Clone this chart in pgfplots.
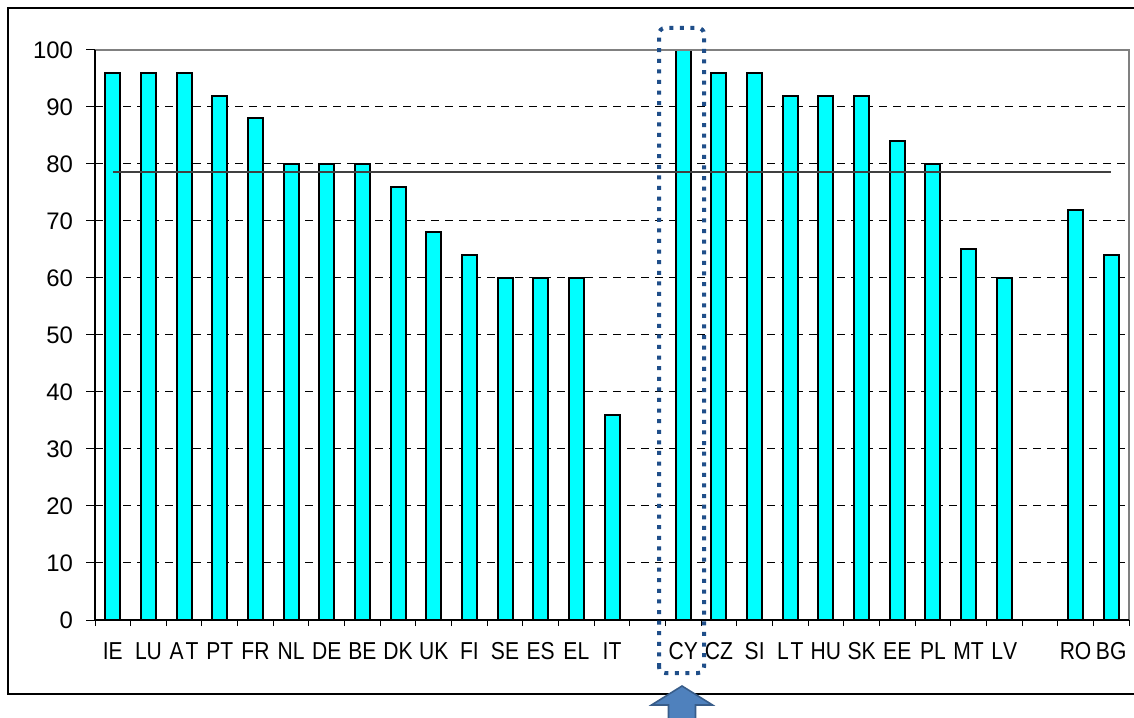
\documentclass[border=0pt]{standalone}
\usepackage{pgfplots}
\pgfplotsset{compat=1.18}
\usepackage{fontspec}
\setmainfont{Liberation Sans}
\newfontfamily\condfont[FakeStretch=0.86,Kerning=Off]{Liberation Sans}
\definecolor{barcyan}{RGB}{0,255,255}
\definecolor{boxblue}{RGB}{31,78,137}
\definecolor{arrowfill}{RGB}{79,129,189}
\definecolor{arrowdraw}{RGB}{56,93,138}
\begin{document}
\begin{tikzpicture}[x=0.5bp,y=0.5bp]
\useasboundingbox (0,0) rectangle (1134,717);
\fill[white] (0,0) rectangle (1134,717);
\draw[line width=0.7bp] (1150,709) -- (8,709) -- (8,23) -- (1150,23);
\begin{axis}[
  at={(47.5bp,48.5bp)}, anchor=south west,
  scale only axis, width=517bp, height=285bp,
  xmin=-0.5, xmax=28.5, ymin=0, ymax=100,
  clip=false,
  axis line style={draw=none},
  tick pos=left,
  ytick={0,10,...,100},
  ymajorgrids,
  grid style={black, dash pattern=on 4bp off 3bp, line width=0.5bp},
  tick align=outside, major tick length=4.5bp, minor tick length=3bp,
  tick style={black, line width=0.5bp},
  xtick={0,...,14,16,17,...,25,27,28},
  xticklabels={IE,LU,A\kern1bp T,PT,FR,NL,DE,BE,DK,UK,FI,SE,ES,EL,IT,CY,CZ,SI,L\kern1bp T,HU,SK,EE,PL,MT,LV,RO,BG},
  minor xtick={-0.5,0.5,...,28.5},
  major x tick style={draw=none},
  yticklabel style={font=\fontsize{12}{14}\selectfont, text=black},
  xticklabel style={font=\condfont\fontsize{12.3}{14}\selectfont, text=black, anchor=north, text height=9bp, text depth=0.5bp},
  yticklabel shift=3bp, xticklabel shift=2.5bp,
  /pgf/number format/assume math mode=true,
]
\addplot[ybar, bar width=7.5bp, fill=barcyan, draw=black, line width=1bp] coordinates {
(0,96) (1,96) (2,96) (3,92) (4,88) (5,80) (6,80) (7,80) (8,76) (9,68)
(10,64) (11,60) (12,60) (13,60) (14,36)
(16,100) (17,96) (18,96) (19,92) (20,92) (21,92) (22,84) (23,80) (24,65) (25,60)
(27,72) (28,64)};
\addplot[line width=1bp, color=black!75, mark=none] coordinates {(0,78.6) (28,78.6)};
\draw[gray, line width=0.7bp] (rel axis cs:0,1) -- (rel axis cs:1,1) -- (rel axis cs:1,0);
\draw[black, line width=0.7bp] (rel axis cs:0,1) -- (rel axis cs:0,0) -- (rel axis cs:1,0);
\end{axis}
\draw[boxblue, line width=2bp, dash pattern=on 2bp off 3.3bp, rounded corners=3bp] (659,44) rectangle (704,689);
\filldraw[fill=arrowfill, draw=arrowdraw, line width=0.8bp] (682,31) -- (712.5,12) -- (695.5,12) -- (695.5,-10) -- (668.5,-10) -- (668.5,12) -- (651.5,12) -- cycle;
\end{tikzpicture}
\end{document}
